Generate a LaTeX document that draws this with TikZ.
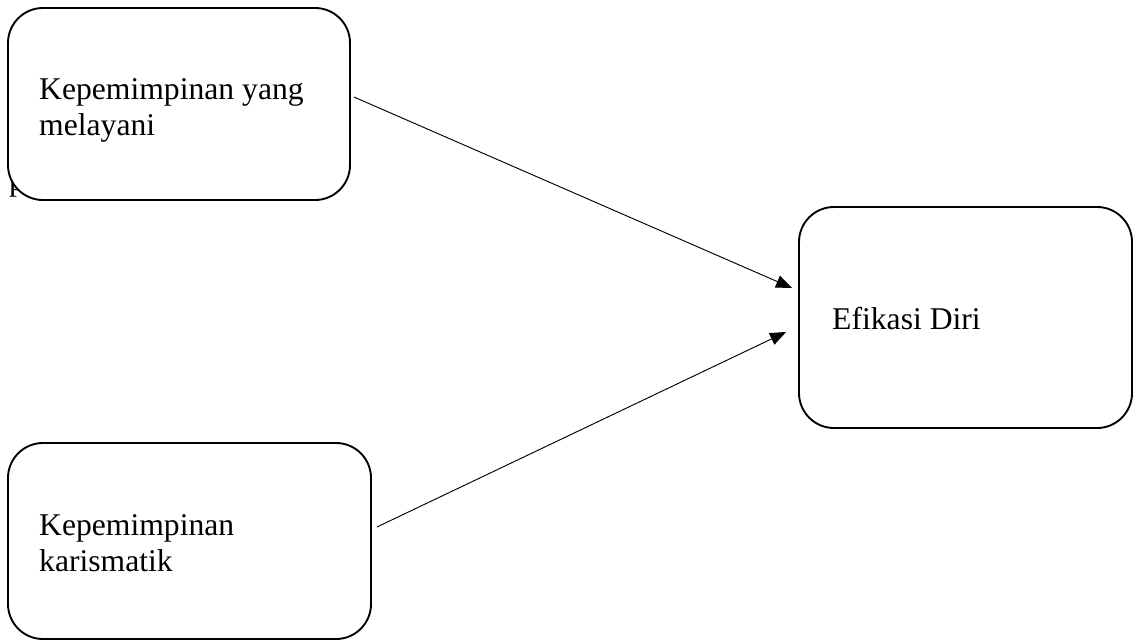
\documentclass[tikz,border=0pt]{standalone}
\usepackage{fontspec}
\setmainfont{Liberation Serif}
\usetikzlibrary{arrows.meta,positioning}

\begin{document}
\begin{tikzpicture}[x=0.03cm,y=-0.03cm,
    kotak/.style={draw,line width=1.6pt,rounded corners=1.05cm,fill=white,inner sep=0pt},
    tulisan/.style={inner sep=0pt,align=left,font=\fontsize{27}{30.5}\selectfont},
    panah/.style={line width=0.8pt,-{Triangle[length=0.48cm,width=0.38cm]}}]
      \useasboundingbox (0,0) rectangle (1133,641);
      % stray letter behind the first box
      \node[tulisan,anchor=base west] (sisa) at (9,190) {p};
      \node[kotak,minimum width=10.26cm,minimum height=5.76cm] (mel) at (179,104) {};
      \node[kotak,minimum width=10.89cm,minimum height=5.88cm] (kar) at (189.5,541) {};
      \node[kotak,minimum width=9.99cm,minimum height=6.63cm] (efi) at (965.5,317.5) {};
      \node[tulisan,anchor=north west] (tmel) at (39,78.3) {Kepemimpinan yang\\melayani};
      \node[tulisan,anchor=north west] (tkar) at (39,514.3) {Kepemimpinan\\karismatik};
      \node[tulisan,anchor=base west] (tefi) at (832,329) {Efikasi Diri};
      \coordinate (s1) at ([shift={(3,-7)}]mel.east);
      \coordinate (s2) at ([shift={(5,-14)}]kar.east);
      \coordinate (t1) at ([shift={(-6,-29.5)}]efi.west);
      \coordinate (t2) at ([shift={(-12,14.5)}]efi.west);
      \draw[panah] (s1) -- (t1);
      \draw[panah] (s2) -- (t2);
    \end{tikzpicture}
\end{document}
